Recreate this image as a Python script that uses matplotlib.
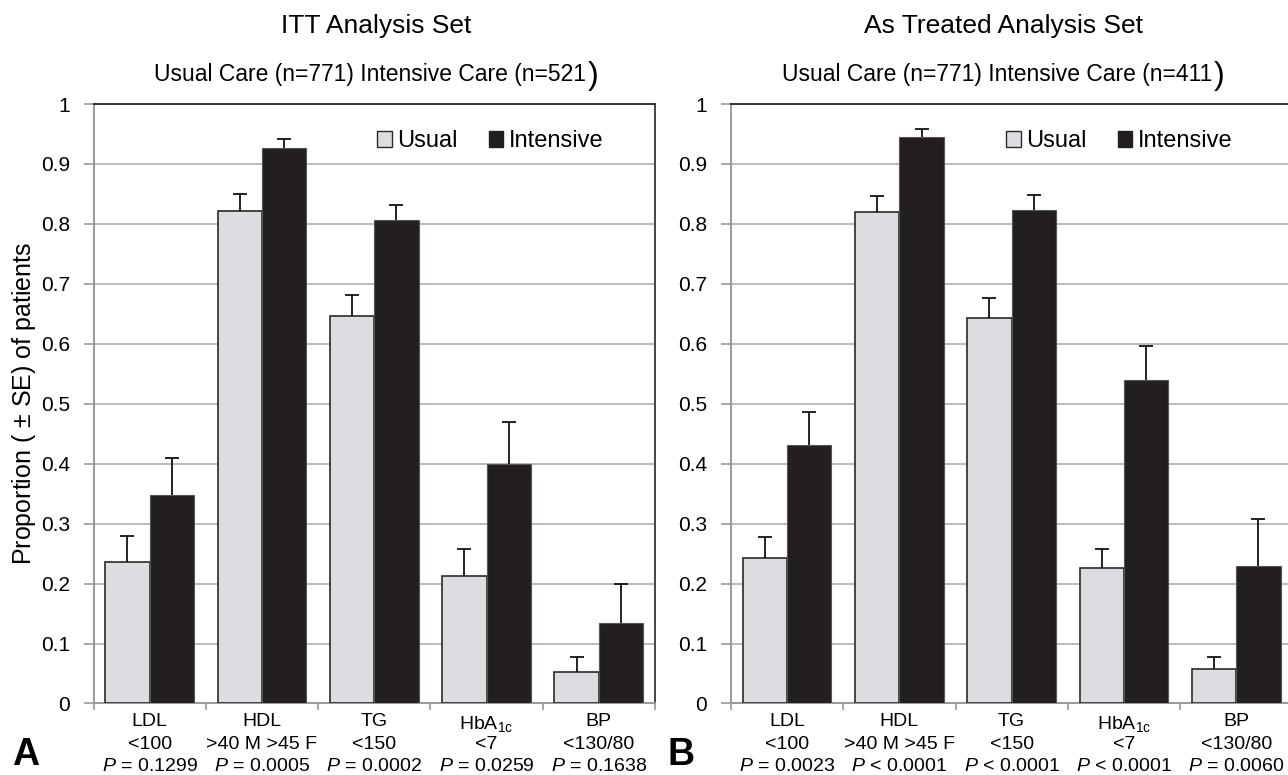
import numpy as np
import matplotlib
matplotlib.use('Agg')
import matplotlib.pyplot as plt
from matplotlib.patches import Patch

plt.rcParams['font.family'] = ['Liberation Sans', 'DejaVu Sans']
plt.rcParams['mathtext.fontset'] = 'custom'
plt.rcParams['mathtext.rm'] = 'Liberation Sans'
plt.rcParams['mathtext.it'] = 'Liberation Sans:italic'

# categorias y umbrales
categorias = ['LDL', 'HDL', 'TG', r'HbA$_{\mathrm{1c}}$', 'BP']
umbrales = ['<100', '>40 M >45 F', '<150', '<7', '<130/80']

# ITT analysis set
itt_usual = [0.236, 0.822, 0.647, 0.213, 0.052]
itt_usual_se = [0.044, 0.028, 0.035, 0.045, 0.025]
itt_intensive = [0.348, 0.926, 0.806, 0.399, 0.135]
itt_intensive_se = [0.062, 0.015, 0.026, 0.071, 0.065]
itt_p = ['= 0.1299', '= 0.0005', '= 0.0002', '= 0.0259', '= 0.1638']

# As treated analysis set
at_usual = [0.243, 0.820, 0.643, 0.226, 0.058]
at_usual_se = [0.034, 0.027, 0.033, 0.032, 0.019]
at_intensive = [0.431, 0.945, 0.823, 0.539, 0.229]
at_intensive_se = [0.055, 0.013, 0.026, 0.058, 0.078]
at_p = ['= 0.0023', '< 0.0001', '< 0.0001', '< 0.0001', '= 0.0060']

color_usual = '#dcdde0'
color_intensive = '#231f20'


def barras_error(ax, xs, ys, se, z):
    # solo la mitad superior de la barra de error
    eb = ax.errorbar(xs, ys, yerr=[np.zeros(len(xs)), se], fmt='none',
                     ecolor='#111111', elinewidth=1.3, capsize=5,
                     capthick=1.3, zorder=z)
    for cl in eb[1]:
        if np.allclose(cl.get_ydata(), ys):
            cl.set_visible(False)


def dibujar_panel(ax, usual, usual_se, intensive, intensive_se, pvals,
                  titulo, subtitulo, legend_x, titulo_x):
    x = np.arange(len(categorias))
    w = 0.395

    ax.bar(x - w / 2, usual, w, color=color_usual, edgecolor='#2a2a2a',
           linewidth=1.2, zorder=3)
    ax.bar(x + w / 2, intensive, w, color=color_intensive,
           edgecolor='#555555', linewidth=0.8, zorder=3)
    barras_error(ax, x - w / 2, usual, usual_se, 4)
    barras_error(ax, x + w / 2, intensive, intensive_se, 2)

    ax.set_xlim(-0.5, len(x) - 0.5)
    ax.set_ylim(0, 1)
    ax.set_yticks(np.arange(0, 1.01, 0.1))
    ax.set_yticklabels(['0', '0.1', '0.2', '0.3', '0.4', '0.5', '0.6',
                        '0.7', '0.8', '0.9', '1'])
    ax.yaxis.grid(True, color='#b4b4b4', linewidth=1.3, zorder=0)
    ax.set_axisbelow(True)

    # etiquetas del eje x en tres lineas
    ax.set_xticks(np.arange(-0.5, len(x)))
    ax.set_xticklabels([])
    ax.tick_params(axis='x', length=5, color='#999999', width=1.2)
    for i in range(len(x)):
        lineas = [categorias[i], umbrales[i], f'$P$ {pvals[i]}']
        for j, (txt, off) in enumerate(zip(lineas, [13, 29.5, 45.5])):
            ax.annotate(txt, xy=(x[i], 0), xycoords=('data', 'axes fraction'),
                        xytext=(0, -off - (1.5 if j == 0 and i == 3 else 0)),
                        textcoords='offset points', ha='center', va='center',
                        fontsize=14)
    ax.tick_params(axis='y', length=7, color='#999999', width=1.2,
                   labelsize=15, pad=10)

    for s in ['left', 'bottom']:
        ax.spines[s].set_color('#999999')
        ax.spines[s].set_linewidth(1.4)
    ax.spines['top'].set_color('#333333')
    ax.spines['top'].set_linewidth(1.4)
    ax.spines['right'].set_color('#444444')
    ax.spines['right'].set_linewidth(1.4)

    handles = [Patch(facecolor=color_usual, edgecolor='#2a2a2a', linewidth=1),
               Patch(facecolor=color_intensive, edgecolor=color_intensive)]
    ax.legend(handles, ['Usual', 'Intensive'], loc='center right',
              bbox_to_anchor=(legend_x, 0.938), ncol=2, frameon=False,
              fontsize=17, handlelength=0.62, handleheight=0.62,
              handletextpad=0.25, columnspacing=1.3, borderpad=0,
              borderaxespad=0)

    ax.text(titulo_x, 1.13, titulo, transform=ax.transAxes, ha='center',
            va='center', fontsize=19)
    sub = ax.text(titulo_x - 0.01, 1.05, subtitulo, transform=ax.transAxes,
                  ha='center', va='center', fontsize=16.5)
    ax.annotate(')', xy=(1, 0.42), xycoords=sub, ha='left', va='center',
                fontsize=23, xytext=(1, 0), textcoords='offset points')


fig = plt.figure(figsize=(12.88, 7.75), dpi=100)
ax1 = fig.add_axes([0.0726, 0.0923, 0.4359, 0.7735])
ax2 = fig.add_axes([0.5675, 0.0923, 0.4359, 0.7735])

dibujar_panel(ax1, itt_usual, itt_usual_se, itt_intensive, itt_intensive_se,
              itt_p, 'ITT Analysis Set',
              'Usual Care (n=771) Intensive Care (n=521', 0.909, 0.503)
dibujar_panel(ax2, at_usual, at_usual_se, at_intensive, at_intensive_se,
              at_p, 'As Treated Analysis Set',
              'Usual Care (n=771) Intensive Care (n=411', 0.894, 0.485)

ax1.set_ylabel(r'Proportion ( $\pm$ SE) of patients', fontsize=18, labelpad=2)

fig.text(0.009, 0.003, 'A', fontsize=27, fontweight='bold', va='bottom')
fig.text(0.518, 0.003, 'B', fontsize=27, fontweight='bold', va='bottom')

fig.savefig('out.png', dpi=100)
